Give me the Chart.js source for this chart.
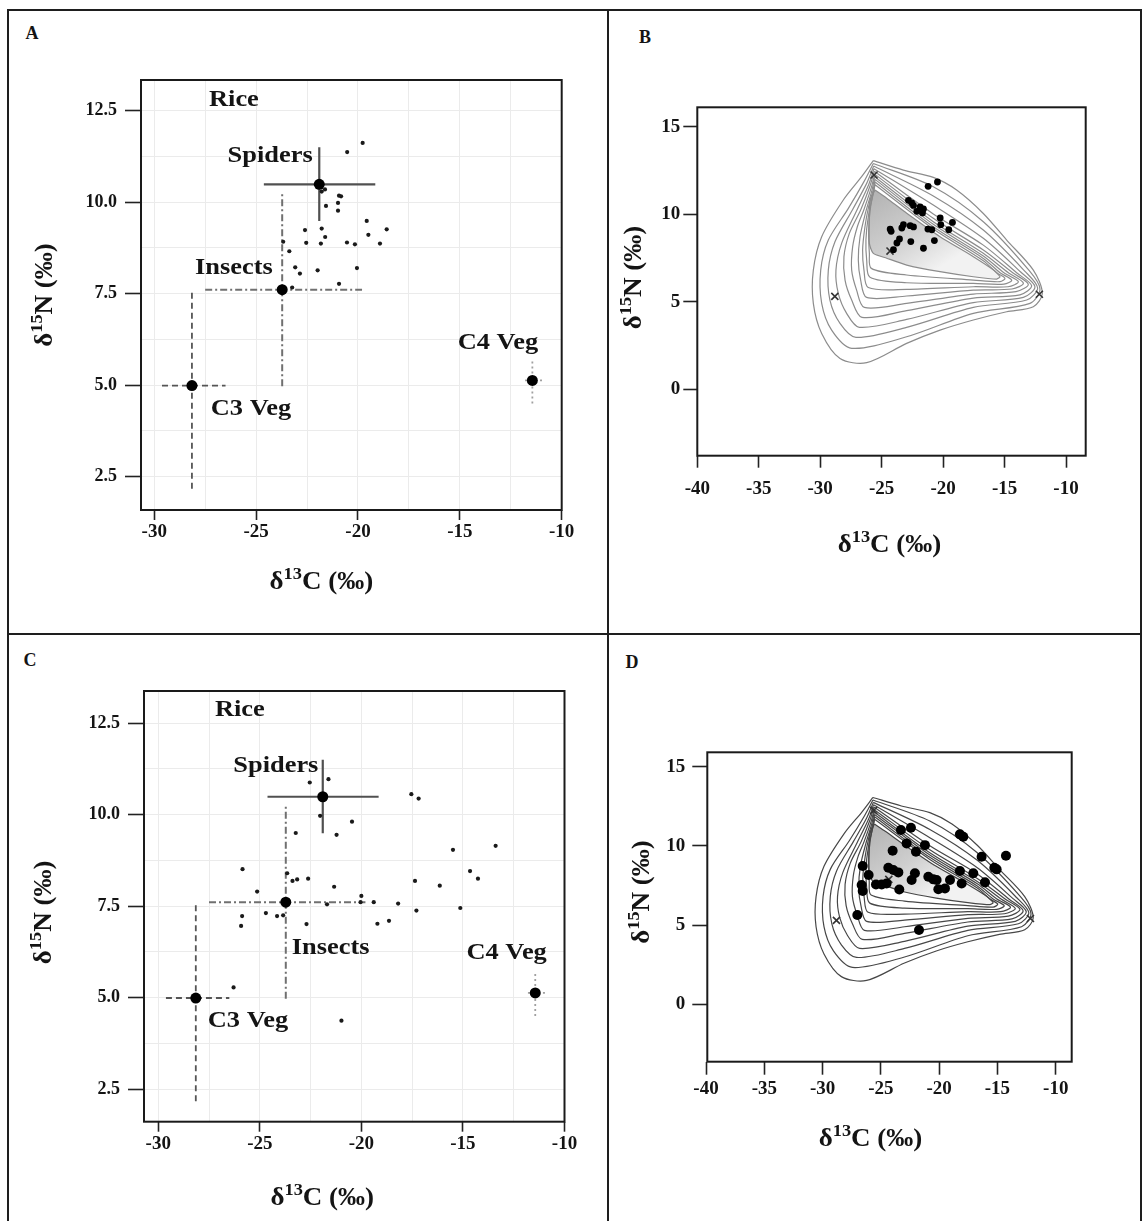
<!DOCTYPE html>
<html>
<head>
<meta charset="utf-8">
<title>Stable isotope biplots and mixing polygons</title>
<script src="https://cdn.jsdelivr.net/npm/chart.js@4.4.1/dist/chart.umd.min.js"></script>
<style>
  body { margin: 0; width: 1142px; height: 1221px; position: relative; overflow: hidden; background: #fff; }
  canvas { position: absolute; }
  .rule { position: absolute; background: #1e1e1e; }
  .tag { position: absolute; font: bold 18px "Liberation Serif", serif; color: #141414; transform: translate(-50%, -50%); }
</style>
</head>
<body>
<div class="rule" style="left:7px;top:9px;width:1135px;height:2px"></div>
<div class="rule" style="left:7px;top:9px;width:2px;height:1212px"></div>
<div class="rule" style="left:1140px;top:9px;width:2px;height:1212px"></div>
<div class="rule" style="left:607px;top:9px;width:2px;height:1212px"></div>
<div class="rule" style="left:7px;top:633px;width:1135px;height:2px"></div>
<div class="tag" style="left:32px;top:33px">A</div>
<div class="tag" style="left:645px;top:37px">B</div>
<div class="tag" style="left:30px;top:660px">C</div>
<div class="tag" style="left:632px;top:662px">D</div>

<canvas id="chartA" width="596" height="620" style="left:10px;top:12px"></canvas>
<canvas id="chartB" width="530" height="620" style="left:610px;top:12px"></canvas>
<canvas id="chartC" width="596" height="584" style="left:10px;top:636px"></canvas>
<canvas id="chartD" width="530" height="584" style="left:610px;top:636px"></canvas>

<script>
// ---- food sources (mean and spread), shared by panels A and C ----
const srcNames = ['Spiders', 'Insects', 'C3 Veg', 'C4 Veg'];
const srcC   = [-21.9, -23.72, -28.15, -11.44];
const srcN   = [10.49, 7.61, 4.99, 5.13];
const srcCLo = [-24.62, -27.5, -29.62, -11.8];
const srcCHi = [-19.15, -19.8, -26.5, -10.85];
const srcNLo = [9.49, 4.97, 2.17, 4.5];
const srcNHi = [11.5, 10.3, 7.63, 5.65];

// ---- rice consumers, panel A ----
const aC = [-19.77, -20.53, -21.62, -21.78, -20.93, -20.83, -21.57, -20.98, -20.98, -19.57,
            -22.6, -21.78, -18.59, -19.49, -21.61, -23.67, -22.54, -21.82, -20.54, -20.15,
            -18.92, -23.37, -23.08, -22.85, -21.98, -20.05, -20.93, -23.23];
const aN = [11.62, 11.37, 10.35, 10.29, 10.18, 10.16, 9.90, 9.98, 9.77, 9.49,
            9.24, 9.28, 9.26, 9.11, 9.05, 8.92, 8.89, 8.87, 8.90, 8.85,
            8.87, 8.66, 8.22, 8.05, 8.14, 8.20, 7.77, 7.67];

// ---- rice consumers, panel C ----
const cC = [-22.54, -21.62, -17.54, -17.18, -22.03, -20.46, -23.23, -21.22, -15.49, -13.39,
            -25.85, -23.65, -23.39, -23.16, -22.62, -21.34, -17.36, -16.14, -14.65, -14.26,
            -25.13, -20.0, -20.04, -21.69, -19.39, -18.19, -17.29, -15.13, -25.87, -24.7,
            -24.15, -23.85, -25.92, -22.7, -19.21, -18.64, -26.29, -20.98];
const cN = [10.88, 10.97, 10.56, 10.44, 9.97, 9.81, 9.50, 9.45, 9.04, 9.15,
            8.51, 8.40, 8.19, 8.23, 8.25, 8.03, 8.19, 8.06, 8.46, 8.25,
            7.90, 7.78, 7.61, 7.55, 7.61, 7.57, 7.38, 7.45, 7.23, 7.31,
            7.23, 7.25, 6.96, 7.01, 7.02, 7.10, 5.28, 4.37];

// ---- consumers in the mixing polygon, panel B ----
const bC = [-21.22, -20.46, -22.82, -22.55, -22.41, -21.87, -21.60, -22.14, -21.68, -20.24,
            -19.24, -20.19, -19.54, -24.31, -24.23, -23.23, -23.36, -22.68, -22.41, -21.24,
            -20.92, -23.55, -23.76, -22.63, -20.71, -21.6, -24.04];
const bN = [11.59, 11.84, 10.79, 10.64, 10.50, 10.41, 10.30, 10.16, 10.07, 9.78,
            9.53, 9.40, 9.11, 9.15, 9.02, 9.40, 9.21, 9.34, 9.27, 9.15,
            9.11, 8.58, 8.35, 8.43, 8.49, 8.05, 7.97];

// ---- consumers in the mixing polygon, panel D ----
const dC = [-23.28, -22.42, -22.79, -21.22, -21.99, -23.99, -18.22, -17.93, -16.36, -14.27,
            -15.27, -15.07, -26.56, -26.05, -24.36, -23.93, -23.5, -22.08, -22.36, -20.93,
            -20.5, -20.22, -19.07, -18.22, -18.07, -17.07, -16.07, -25.42, -24.93, -24.51,
            -26.65, -26.56, -23.42, -20.07, -19.5, -27.02, -21.73];
const dN = [11.0, 11.15, 10.16, 10.05, 9.63, 9.70, 10.73, 10.58, 9.32, 9.38,
            8.62, 8.52, 8.73, 8.16, 8.62, 8.48, 8.33, 8.27, 7.85, 8.06,
            7.89, 7.85, 7.85, 8.42, 7.63, 8.27, 7.70, 7.57, 7.57, 7.63,
            7.53, 7.15, 7.25, 7.27, 7.32, 5.64, 4.69];

// ---- TDF-corrected source positions (x marks) ----
const mixC = [-25.62, -24.32, -28.81, -12.17];
const mixN = [12.24, 7.89, 5.30, 5.42];

// ---- mixing region contours, outermost first: [d13C, d15N] ----
const contours = [
  [[-25.68,13.06],[-23.24,12.52],[-20.8,12.10],[-18.9,11.38],[-16.73,10.04],[-14.83,8.52],[-12.66,6.80],[-11.93,5.47],[-12.66,4.71],[-14.83,4.42],[-17.54,3.95],[-20.25,3.37],[-22.97,2.61],[-26.22,1.51],[-28.39,1.75],[-29.88,3.18],[-30.56,4.90],[-30.56,6.80],[-29.88,8.71],[-28.12,10.81],[-26.63,12.14],[-25.68,13.06]],
  [[-25.68,12.90],[-20.8,11.57],[-16.73,9.57],[-12.99,6.77],[-12.12,5.72],[-12.93,4.90],[-17.54,4.33],[-22.97,2.99],[-27.44,2.33],[-29.07,3.37],[-29.88,4.90],[-29.96,6.80],[-29.34,8.52],[-27.71,10.33],[-26.44,11.86],[-25.68,12.90]],
  [[-25.65,12.75],[-20.8,11.04],[-16.73,9.09],[-13.34,6.73],[-12.31,5.78],[-13.20,5.09],[-17.54,4.67],[-22.97,3.53],[-27.09,2.96],[-28.39,3.76],[-29.21,5.09],[-29.34,6.80],[-28.80,8.42],[-27.36,10.27],[-26.22,11.76],[-25.65,12.75]],
  [[-25.63,12.60],[-20.8,10.52],[-16.73,8.62],[-13.69,6.69],[-12.53,5.85],[-13.47,5.24],[-17.54,4.94],[-22.97,3.98],[-26.82,3.53],[-27.85,4.33],[-28.53,5.47],[-28.72,6.80],[-28.26,8.33],[-27.04,10.20],[-26.06,11.68],[-25.63,12.60]],
  [[-25.6,12.45],[-20.8,10.01],[-16.73,8.23],[-14.02,6.65],[-12.80,5.91],[-13.75,5.39],[-17.54,5.20],[-22.97,4.48],[-26.60,4.10],[-27.44,5.09],[-27.98,6.23],[-28.07,7.57],[-27.63,8.90],[-26.71,10.24],[-25.95,11.61],[-25.6,12.45]],
  [[-25.57,12.29],[-20.8,9.76],[-16.73,7.95],[-14.34,6.65],[-13.07,5.99],[-14.07,5.57],[-17.54,5.43],[-22.97,4.90],[-26.41,4.67],[-27.04,5.66],[-27.44,6.80],[-27.36,8.14],[-26.98,9.28],[-26.44,10.27],[-25.84,11.53],[-25.57,12.29]],
  [[-25.57,12.14],[-20.8,9.57],[-16.73,7.76],[-14.69,6.65],[-13.47,6.06],[-14.40,5.72],[-17.54,5.66],[-22.97,5.32],[-26.22,5.24],[-26.71,6.23],[-26.90,7.38],[-26.76,8.71],[-26.33,10.04],[-25.76,11.45],[-25.57,12.14]],
  [[-25.54,11.99],[-20.8,9.42],[-16.73,7.61],[-15.05,6.65],[-13.88,6.14],[-14.72,5.85],[-17.54,5.85],[-22.97,5.70],[-26.09,5.81],[-26.44,6.80],[-26.55,7.95],[-26.36,9.28],[-26.06,10.43],[-25.68,11.42],[-25.54,11.99]],
  [[-25.54,11.84],[-20.8,9.28],[-16.73,7.47],[-15.37,6.65],[-14.42,6.23],[-15.05,6.00],[-17.54,6.04],[-22.97,6.08],[-25.95,6.39],[-26.22,7.38],[-26.28,8.52],[-26.09,9.85],[-25.63,11.38],[-25.54,11.84]],
  [[-25.54,11.68],[-20.8,9.15],[-16.73,7.34],[-15.64,6.65],[-14.97,6.33],[-15.37,6.14],[-17.54,6.23],[-22.97,6.52],[-25.84,6.90],[-26.0,7.76],[-26.06,9.09],[-25.90,10.43],[-25.54,11.68]]
];
const innerRegion = [[-25.54,11.38],[-24.59,10.91],[-22.96,10.05],[-20.25,8.71],[-17.54,7.57],[-15.9,6.81],[-15.37,6.42],[-15.64,6.29],[-17.54,6.42],[-20.25,6.71],[-22.96,7.09],[-24.59,7.48],[-25.68,7.76],[-26.0,8.33],[-25.95,10.81],[-25.54,11.38]];

// ---- ticks ----
const xGridAC   = [-30, -27.5, -25, -22.5, -20, -17.5, -15, -12.5, -10];
const xLabelsAC = [-30, -25, -20, -15, -10];
const yGridAC   = [2.5, 3.75, 5, 6.25, 7.5, 8.75, 10, 11.25, 12.5];
const yLabelsAC = [2.5, 5, 7.5, 10, 12.5];
const xTicksBD  = [-40, -35, -30, -25, -20, -15, -10];
const yTicksBD  = [0, 5, 10, 15];

const FONT = '"Liberation Serif", "Times New Roman", serif';
const INK = '#141414';
const barStyle = [
  { color: '#505050', width: 2.2, dash: [] },
  { color: '#707070', width: 2, dash: [7, 3, 2, 3] },
  { color: '#555555', width: 1.8, dash: [6, 4] },
  { color: '#a0a0a0', width: 1.8, dash: [2, 3] }
];

const pts = (xs, ys) => xs.map((v, i) => ({ x: v, y: ys[i] }));
const ring = r => r.map(p => ({ x: p[0], y: p[1] }));
const isMajor = (v, list) => list.some(m => Math.abs(m - v) < 1e-6);
const tickFont = size => ({ family: FONT, weight: 'bold', size });

function isoLabel(ctx, cx, cy, mass, el, vertical) {
  const big = 'bold 25px ' + FONT, small = 'bold 17px ' + FONT;
  const rest = el + ' (\u2030)';
  ctx.save();
  ctx.translate(cx, cy);
  if (vertical) ctx.rotate(-Math.PI / 2);
  ctx.scale(1.08, 1);
  ctx.font = big;
  const w1 = ctx.measureText('\u03b4').width, w3 = ctx.measureText(rest).width;
  ctx.font = small;
  const w2 = ctx.measureText(mass).width;
  let px = -(w1 + w2 + w3) / 2;
  ctx.fillStyle = INK;
  ctx.textAlign = 'left';
  ctx.textBaseline = 'alphabetic';
  ctx.font = big; ctx.fillText('\u03b4', px, 9); px += w1;
  ctx.font = small; ctx.fillText(mass, px, -1); px += w2;
  ctx.font = big; ctx.fillText(rest, px, 9);
  ctx.restore();
}

function makeDeco(cfg) {
  return {
    id: 'deco',
    afterDatasetsDraw(chart) {
      const { ctx, chartArea: a } = chart;
      ctx.save();
      ctx.strokeStyle = '#1a1a1a';
      ctx.lineWidth = 2;
      ctx.strokeRect(a.left, a.top, a.right - a.left, a.bottom - a.top);
      ctx.restore();
    },
    afterDraw(chart) {
      const { ctx, chartArea: a, scales } = chart;
      (cfg.notes || []).forEach(n => {
        ctx.save();
        ctx.translate(scales.x.getPixelForValue(n.c), scales.y.getPixelForValue(n.n));
        ctx.scale(1.1, 1);
        ctx.font = 'bold 24px ' + FONT;
        ctx.fillStyle = INK;
        ctx.textAlign = 'center';
        ctx.textBaseline = 'middle';
        ctx.fillText(n.text, 0, 0);
        ctx.restore();
      });
      isoLabel(ctx, (a.left + a.right) / 2 + cfg.xTitle[0], a.bottom + cfg.xTitle[1], '13', 'C', false);
      isoLabel(ctx, a.left + cfg.yTitle[0], (a.top + a.bottom) / 2 + cfg.yTitle[1], '15', 'N', true);
    }
  };
}

function ggScales(g) {
  return {
    x: {
      type: 'linear', min: g.xmin, max: g.xmax,
      afterBuildTicks: s => { s.ticks = xGridAC.map(v => ({ value: v })); },
      afterFit: s => { s.height = g.xH; },
      border: { display: false },
      grid: {
        color: '#ebebeb', lineWidth: 1, tickLength: 10, tickWidth: 1.6,
        tickColor: c => (c.tick && isMajor(c.tick.value, xLabelsAC)) ? '#222' : 'rgba(0,0,0,0)'
      },
      ticks: {
        autoSkip: false, maxRotation: 0, minRotation: 0, padding: 1, color: INK, font: tickFont(19),
        callback: v => isMajor(v, xLabelsAC) ? String(v) : ''
      }
    },
    y: {
      type: 'linear', min: g.ymin, max: g.ymax,
      afterBuildTicks: s => { s.ticks = yGridAC.map(v => ({ value: v })); },
      afterFit: s => { s.width = g.yW; },
      border: { display: false },
      grid: {
        color: '#ebebeb', lineWidth: 1, tickLength: 16, tickWidth: 1.6,
        tickColor: c => (c.tick && isMajor(c.tick.value, yLabelsAC)) ? '#222' : 'rgba(0,0,0,0)'
      },
      ticks: {
        autoSkip: false, padding: 8, color: INK, font: tickFont(18),
        callback: v => isMajor(v, yLabelsAC) ? v.toFixed(1) : ''
      }
    }
  };
}

function mixScales(g) {
  return {
    x: {
      type: 'linear', min: g.xmin, max: g.xmax,
      afterBuildTicks: s => { s.ticks = xTicksBD.map(v => ({ value: v })); },
      afterFit: s => { s.height = g.xH; },
      border: { display: false },
      grid: { drawOnChartArea: false, tickLength: g.xTL, tickWidth: 1.6, tickColor: '#222' },
      ticks: { autoSkip: false, maxRotation: 0, minRotation: 0, padding: g.xPad, color: INK, font: tickFont(19),
               callback: v => String(v) }
    },
    y: {
      type: 'linear', min: g.ymin, max: g.ymax,
      afterBuildTicks: s => { s.ticks = yTicksBD.map(v => ({ value: v })); },
      afterFit: s => { s.width = g.yW; },
      border: { display: false },
      grid: { drawOnChartArea: false, tickLength: g.yTL, tickWidth: 1.6, tickColor: '#222' },
      ticks: { autoSkip: false, padding: g.yPad, color: INK, font: tickFont(19), callback: v => String(v) }
    }
  };
}

function ggDatasets(xs, ys) {
  const ds = [
    { data: pts(srcC, srcN), pointRadius: 5.5, backgroundColor: '#000', borderWidth: 0 },
    { data: pts(xs, ys), pointRadius: 2.1, backgroundColor: '#1a1a1a', borderWidth: 0 }
  ];
  srcNames.forEach((name, i) => {
    const st = barStyle[i];
    const line = { showLine: true, pointRadius: 0, borderColor: st.color, borderWidth: st.width, borderDash: st.dash };
    ds.push(Object.assign({ label: name + ' C', data: [{ x: srcCLo[i], y: srcN[i] }, { x: srcCHi[i], y: srcN[i] }] }, line));
    ds.push(Object.assign({ label: name + ' N', data: [{ x: srcC[i], y: srcNLo[i] }, { x: srcC[i], y: srcNHi[i] }] }, line));
  });
  return ds;
}

const innerFill = c => {
  const ch = c.chart;
  if (!ch.chartArea) return '#d0d0d0';
  const x = ch.scales.x, y = ch.scales.y;
  const g = ch.ctx.createLinearGradient(x.getPixelForValue(-25.8), y.getPixelForValue(11.2),
                                        x.getPixelForValue(-21.5), y.getPixelForValue(6.4));
  g.addColorStop(0, '#b3b3b3');
  g.addColorStop(0.55, '#cfcfcf');
  g.addColorStop(1, '#f2f2f2');
  return g;
};

function mixDatasets(xs, ys, dotR, lineCol) {
  const ds = [
    { data: pts(xs, ys), pointRadius: dotR, backgroundColor: '#000', borderWidth: 0 },
    { data: pts(mixC, mixN), pointStyle: 'crossRot', pointRadius: 5, borderColor: '#333', borderWidth: 1.6, backgroundColor: 'rgba(0,0,0,0)' }
  ];
  contours.forEach(r => ds.push({ data: ring(r), showLine: true, pointRadius: 0, borderColor: lineCol, borderWidth: 1.2, tension: 0.3, fill: false }));
  ds.push({ data: ring(innerRegion), showLine: true, pointRadius: 0, borderColor: lineCol, borderWidth: 1.2, tension: 0.2,
            fill: 'shape', backgroundColor: innerFill });
  return ds;
}

function panel(id, pad, datasets, scales, deco) {
  return new Chart(document.getElementById(id), {
    type: 'scatter',
    data: { datasets },
    options: {
      responsive: false,
      animation: false,
      events: [],
      layout: { padding: { left: 0, top: pad.top, right: pad.right, bottom: 0 } },
      plugins: { legend: { display: false }, tooltip: { enabled: false } },
      scales
    },
    plugins: [deco]
  });
}

panel('chartA', { top: 68, right: 44.3 }, ggDatasets(aC, aN),
  ggScales({ xmin: -30.65, xmax: -10, ymin: 1.59, ymax: 13.34, yW: 131, xH: 122 }),
  makeDeco({
    xTitle: [-30, 70], yTitle: [-98, 0],
    notes: [
      { text: 'Rice', c: -26.09, n: 12.79 },
      { text: 'Spiders', c: -24.31, n: 11.26 },
      { text: 'Insects', c: -26.09, n: 8.2 },
      { text: 'C4 Veg', c: -13.13, n: 6.15 },
      { text: 'C3 Veg', c: -25.25, n: 4.35 }
    ]
  }));

panel('chartC', { top: 55, right: 41.5 }, ggDatasets(cC, cN),
  ggScales({ xmin: -30.7, xmax: -10, ymin: 1.61, ymax: 13.38, yW: 134, xH: 98.3 }),
  makeDeco({
    xTitle: [-32, 74], yTitle: [-102, 6],
    notes: [
      { text: 'Rice', c: -25.98, n: 12.86 },
      { text: 'Spiders', c: -24.21, n: 11.33 },
      { text: 'Insects', c: -21.51, n: 6.36 },
      { text: 'C4 Veg', c: -12.85, n: 6.23 },
      { text: 'C3 Veg', c: -25.58, n: 4.37 }
    ]
  }));

panel('chartB', { top: 95.3, right: 54.3 }, mixDatasets(bC, bN, 3.4, '#8c8c8c'),
  mixScales({ xmin: -40, xmax: -8.4, ymin: -3.81, ymax: 16.11, yW: 87.3, xH: 176.3, xTL: 12, xPad: 10, yTL: 14, yPad: 3 }),
  makeDeco({ xTitle: [-2, 87], yTitle: [-65, -4] }));

panel('chartD', { top: 116.3, right: 68.3 }, mixDatasets(dC, dN, 5, '#474747'),
  mixScales({ xmin: -39.89, xmax: -8.63, ymin: -3.62, ymax: 15.91, yW: 97.3, xH: 158.3, xTL: 13, xPad: 3, yTL: 15, yPad: 7 }),
  makeDeco({ xTitle: [-19, 75], yTitle: [-67, -15] }));
</script>
</body>
</html>
